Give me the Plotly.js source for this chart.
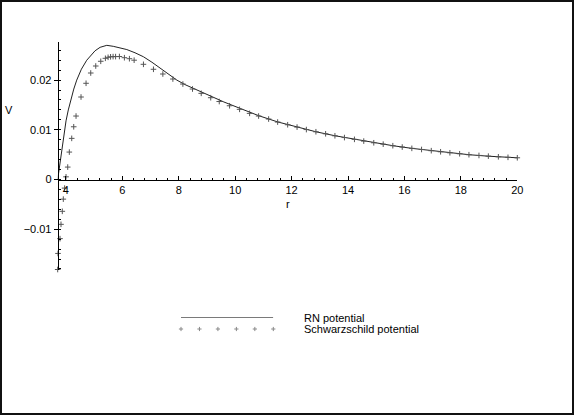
<!DOCTYPE html>
<html>
<head>
<meta charset="utf-8">
<script src="https://cdn.plot.ly/plotly-3.0.1.min.js"></script>
<style>
html,body{margin:0;padding:0;background:#fff;}
#wrap{position:relative;width:574px;height:415px;}
#chart{width:574px;height:415px;}
#frame{position:absolute;left:0;top:0;width:574px;height:415px;box-sizing:border-box;border:2px solid #111;pointer-events:none;}
</style>
</head>
<body>
<div id="wrap"><div id="chart"></div><div id="frame"></div></div>
<script>
// ---- data ----
const rnR = [3.71,3.76,3.82,3.909,4.005,4.086,4.171,4.28,4.384,4.55,4.739,4.9,5.034,5.212,5.45,5.68,5.95,6.159,6.45,6.749,7.05,7.342,7.64,7.934,8.22,8.524,8.82,9.116,9.6,10.181,10.83,11.51,12.19,12.86,13.54,14.23,14.91,15.59,16.26,16.95,17.61,18.29,18.97,19.67,20.0];
const rnV = [0,0.0020,0.0046,0.0080,0.0118,0.0140,0.0160,0.0182,0.0200,0.0222,0.0240,0.0251,0.0259,0.0266,0.0270,0.0268,0.02645,0.02615,0.0255,0.0247,0.0236,0.0224,0.0212,0.0200,0.0191,0.0183,0.0175,0.0168,0.0156,0.0143,0.01285,0.01158,0.01055,0.00961,0.00880,0.00808,0.00740,0.00680,0.00627,0.00580,0.00538,0.00499,0.00469,0.00446,0.00437];

const schR = [3.71,3.721,3.792,3.827,3.873,3.909,3.955,4.005,4.065,4.122,4.207,4.278,4.360,4.537,4.715,4.881,5.059,5.236,5.400,5.496,5.584,5.673,5.762,5.897,6.074,6.252,6.419,6.749,7.104,7.437,7.792,8.147,8.488,8.797,9.134,9.436,9.802,10.157,10.512,10.831,11.186,11.506,11.861,12.194,12.524,12.862,13.206,13.536,13.873,14.228,14.558,14.913,15.247,15.588,15.921,16.262,16.607,16.951,17.281,17.611,17.956,18.286,18.641,18.974,19.329,19.670,20.0];
const schV = [-0.01811,-0.01488,-0.01190,-0.00902,-0.00640,-0.00395,-0.00173,0.00054,0.00250,0.00552,0.00828,0.01061,0.01277,0.01660,0.01936,0.02143,0.02284,0.02379,0.02439,0.02459,0.02469,0.02473,0.02473,0.02475,0.02451,0.02431,0.02401,0.02318,0.02218,0.02123,0.02022,0.01921,0.01821,0.01734,0.01646,0.01569,0.01484,0.01412,0.01331,0.01277,0.01217,0.01156,0.01102,0.01055,0.01005,0.00961,0.00920,0.00880,0.00844,0.00808,0.00773,0.00739,0.00711,0.00680,0.00653,0.00627,0.00604,0.00580,0.00558,0.00538,0.00518,0.00499,0.00484,0.00470,0.00457,0.00446,0.00437];

const seriesNames = ["RN potential","Schwarzschild potential"];
// legend sample positions on a tiny helper axis
const legLineX = [0,5], legLineY = [1,1];
const legPtsX = [0,1,2,3,4,5], legPtsY = [0,0,0,0,0,0];

// ---- layout helpers (pixels -> paper) ----
const W=574,H=415;
const fx = p => p/W, fy = p => (H-p)/H;
const L=57.7,R=517.3,T=41.7,B=270,X0=179.5;
const FONT = "Liberation Sans, Arial, Helvetica, sans-serif";
const lineCol = "#222", ptCol = "#555";

const traces = [
  {x:rnR,y:rnV,type:"scatter",mode:"lines",line:{color:lineCol,width:1},name:seriesNames[0],showlegend:false,xaxis:"x",yaxis:"y"},
  {x:schR,y:schV,type:"scatter",mode:"markers",marker:{symbol:"cross-thin",size:4,line:{color:ptCol,width:1},color:ptCol},name:seriesNames[1],showlegend:false,xaxis:"x",yaxis:"y",cliponaxis:false},
  {x:legLineX,y:legLineY,type:"scatter",mode:"lines",line:{color:lineCol,width:1},showlegend:false,xaxis:"x2",yaxis:"y2",cliponaxis:false},
  {x:legPtsX,y:legPtsY,type:"scatter",mode:"markers",marker:{symbol:"cross-thin",size:3,line:{color:"#888",width:1},color:"#888"},showlegend:false,xaxis:"x2",yaxis:"y2",cliponaxis:false}
];

const layout = {
  width:W,height:H,
  margin:{l:0,r:0,t:0,b:0},
  paper_bgcolor:"#fff",plot_bgcolor:"rgba(0,0,0,0)",
  font:{family:FONT,size:11,color:"#000"},
  showlegend:false,
  xaxis:{
    domain:[fx(L),fx(R)],range:[3.71,20],anchor:"free",position:fy(X0),
    showline:true,linecolor:"#000",linewidth:1,showgrid:false,zeroline:false,
    tickmode:"linear",tick0:0,dtick:2,ticks:"inside",ticklen:4,tickcolor:"#000",
    minor:{tickmode:"linear",tick0:0,dtick:0.4,ticks:"inside",ticklen:2,tickcolor:"#000",showgrid:false},
    tickfont:{family:FONT,size:11,color:"#000"}
  },
  yaxis:{
    domain:[fy(B),fy(T)],range:[-0.01821,0.02773],anchor:"free",position:fx(L),
    showline:true,linecolor:"#000",linewidth:1,showgrid:false,zeroline:false,
    tickmode:"linear",tick0:0,dtick:0.01,ticks:"outside",ticklen:4,tickcolor:"#000",
    minor:{tickmode:"linear",tick0:0,dtick:0.002,ticks:"inside",ticklen:2,tickcolor:"#000",showgrid:false},
    tickfont:{family:FONT,size:11,color:"#000"}
  },
  xaxis2:{domain:[fx(181),fx(273.3)],range:[0,5],anchor:"y2",visible:false},
  yaxis2:{domain:[fy(329),fy(317.3)],range:[0,1],anchor:"x2",visible:false},
  annotations:[
    {text:"V",xref:"paper",yref:"paper",x:fx(8.5),y:fy(110),xanchor:"center",yanchor:"middle",showarrow:false,font:{family:FONT,size:11}},
    {text:"r",xref:"paper",yref:"paper",x:fx(287.5),y:fy(204),xanchor:"center",yanchor:"middle",showarrow:false,font:{family:FONT,size:11}},
    {text:seriesNames[0],xref:"paper",yref:"paper",x:fx(302),y:fy(318),xanchor:"left",yanchor:"middle",showarrow:false,font:{family:FONT,size:11}},
    {text:seriesNames[1],xref:"paper",yref:"paper",x:fx(302),y:fy(328.5),xanchor:"left",yanchor:"middle",showarrow:false,font:{family:FONT,size:11}}
  ]
};

Plotly.newPlot("chart",traces,layout,{staticPlot:true,displayModeBar:false});
</script>
</body>
</html>
